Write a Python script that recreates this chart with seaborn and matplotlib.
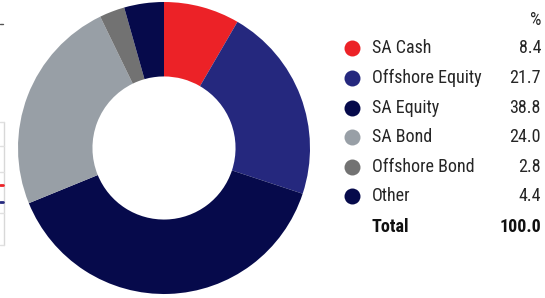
import matplotlib
matplotlib.use("Agg")
import matplotlib.pyplot as plt
import seaborn as sns
from matplotlib.lines import Line2D

categories = ["SA Cash", "Offshore Equity", "SA Equity", "SA Bond", "Offshore Bond", "Other"]
values = [8.4, 21.7, 38.8, 24.0, 2.8, 4.4]
value_labels = ["8.4", "21.7", "38.8", "24.0", "2.8", "4.4"]
total_label = "100.0"
colors = ["#EC2227", "#25287E", "#060A4B", "#989FA6", "#727272", "#060A4B"]

sns.set_theme(style="white")
plt.rcParams['font.family'] = ['Roboto Condensed', 'DejaVu Sans']

W, H = 545, 298
fig = plt.figure(figsize=(W / 100, H / 100), dpi=100)

cx, cy, r = 164, 148, 146
ax = fig.add_axes([(cx - r) / W, (H - cy - r) / H, 2 * r / W, 2 * r / H])
ax.pie(values, colors=colors, startangle=90, counterclock=False, radius=1,
       wedgeprops=dict(width=0.51, edgecolor="none", linewidth=0))
ax.set_xlim(-1, 1)
ax.set_ylim(-1, 1)
ax.set_aspect("equal")
ax.axis("off")

def fy(py):
    return 1 - py / H

def fx(px):
    return px / W

txt_color = "#262626"
fs = 13
fig.text(fx(541), fy(20), "%", ha="right", va="center", fontsize=fs, color=txt_color)
rows_y = [48, 78, 108, 137, 167, 196]
for cat, lab, col, y in zip(categories, value_labels, colors, rows_y):
    fig.add_artist(Line2D([fx(352)], [fy(y)], marker="o", markersize=11.5,
                          markerfacecolor=col, markeredgecolor="none", linestyle="none",
                          transform=fig.transFigure))
    fig.text(fx(372), fy(y), cat, ha="left", va="center", fontsize=fs, color=txt_color)
    fig.text(fx(541), fy(y), lab, ha="right", va="center", fontsize=fs, color=txt_color)
fig.text(fx(372), fy(227), "Total", ha="left", va="center", fontsize=fs,
         color="#111111", fontweight="bold")
fig.text(fx(541), fy(227), total_label, ha="right", va="center", fontsize=fs,
         color="#111111", fontweight="bold")

# fragments of the neighbouring panel at the left edge
fig.add_artist(Line2D([0, fx(3)], [fy(24), fy(24)], color="#555555", lw=1, transform=fig.transFigure))
fig.add_artist(Line2D([fx(4), fx(4)], [fy(122), fy(245)], color="#d8d8d8", lw=1, transform=fig.transFigure))
for y in [122, 146, 172, 213, 245]:
    fig.add_artist(Line2D([0, fx(4)], [fy(y), fy(y)], color="#e0e0e0", lw=1, transform=fig.transFigure))
fig.add_artist(Line2D([0, fx(3)], [fy(185), fy(185)], color="#EC2227", lw=2, transform=fig.transFigure))
fig.add_artist(Line2D([0, fx(3)], [fy(202), fy(202)], color="#25287E", lw=2, transform=fig.transFigure))

fig.savefig("out.png", dpi=100)
